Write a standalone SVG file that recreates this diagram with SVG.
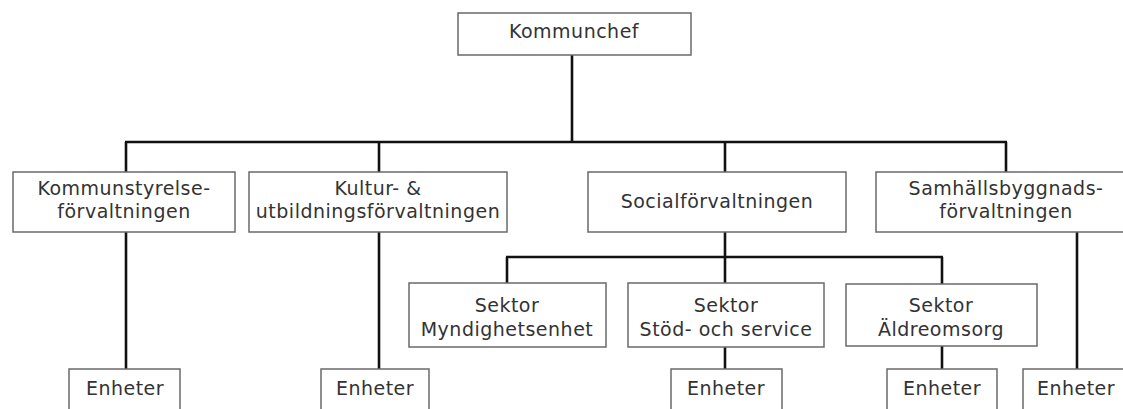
<svg xmlns="http://www.w3.org/2000/svg" width="1123" height="409" viewBox="0 0 1123 409">
<style>
.box{fill:#fff;stroke:#6a6a6a;stroke-width:1.5}
.lbl{font-family:"DejaVu Sans",Verdana,sans-serif;font-size:19px;letter-spacing:0.5px;fill:#333;text-anchor:middle}
.con{stroke:#111;stroke-width:2.6;fill:none}
</style>
<rect width="1123" height="409" fill="#fff"/>
<g id="connectors" class="con">
<line x1="572" y1="55" x2="572" y2="142"/>
<line x1="125" y1="142" x2="1007" y2="142"/>
<line x1="126" y1="142" x2="126" y2="172"/>
<line x1="379" y1="142" x2="379" y2="172"/>
<line x1="725" y1="142" x2="725" y2="172"/>
<line x1="1006" y1="142" x2="1006" y2="172"/>
<line x1="126" y1="232" x2="126" y2="369"/>
<line x1="379" y1="232" x2="379" y2="369"/>
<line x1="725" y1="232" x2="725" y2="369"/>
<line x1="1077" y1="232" x2="1077" y2="369"/>
<line x1="506" y1="257" x2="943" y2="257"/>
<line x1="507" y1="257" x2="507" y2="283"/>
<line x1="942" y1="257" x2="942" y2="369"/>
</g>
<g id="kommunchef"><rect class="box" x="458" y="13" width="233" height="42"/><text class="lbl" x="574" y="38">Kommunchef</text></g>
<g id="kommunstyrelse"><rect class="box" x="13" y="172" width="222" height="60"/><text class="lbl" x="124" y="195">Kommunstyrelse-</text><text class="lbl" x="124" y="218">förvaltningen</text></g>
<g id="kultur"><rect class="box" x="249" y="172" width="258" height="60"/><text class="lbl" x="378" y="195">Kultur- &amp;</text><text class="lbl" x="378" y="218">utbildningsförvaltningen</text></g>
<g id="social"><rect class="box" x="588" y="172" width="258" height="60"/><text class="lbl" x="717" y="208">Socialförvaltningen</text></g>
<g id="samhall"><rect class="box" x="876" y="172" width="260" height="60"/><text class="lbl" x="1006" y="195">Samhällsbyggnads-</text><text class="lbl" x="1006" y="218">förvaltningen</text></g>
<g id="myndighet"><rect class="box" x="409" y="283" width="197" height="64"/><text class="lbl" x="507" y="312">Sektor</text><text class="lbl" x="507" y="336">Myndighetsenhet</text></g>
<g id="stod"><rect class="box" x="628" y="283" width="196" height="64"/><text class="lbl" x="726" y="312">Sektor</text><text class="lbl" x="726" y="336">Stöd- och service</text></g>
<g id="aldre"><rect class="box" x="846" y="284" width="191" height="62"/><text class="lbl" x="941" y="312">Sektor</text><text class="lbl" x="941" y="336">Äldreomsorg</text></g>
<g id="enheter1"><rect class="box" x="69" y="369" width="111" height="50"/><text class="lbl" x="125" y="395">Enheter</text></g>
<g id="enheter2"><rect class="box" x="321" y="369" width="108" height="50"/><text class="lbl" x="375" y="395">Enheter</text></g>
<g id="enheter3"><rect class="box" x="671" y="369" width="111" height="50"/><text class="lbl" x="726" y="395">Enheter</text></g>
<g id="enheter4"><rect class="box" x="887" y="369" width="110" height="50"/><text class="lbl" x="942" y="395">Enheter</text></g>
<g id="enheter5"><rect class="box" x="1023" y="369" width="108" height="50"/><text class="lbl" x="1076" y="395">Enheter</text></g>
</svg>
